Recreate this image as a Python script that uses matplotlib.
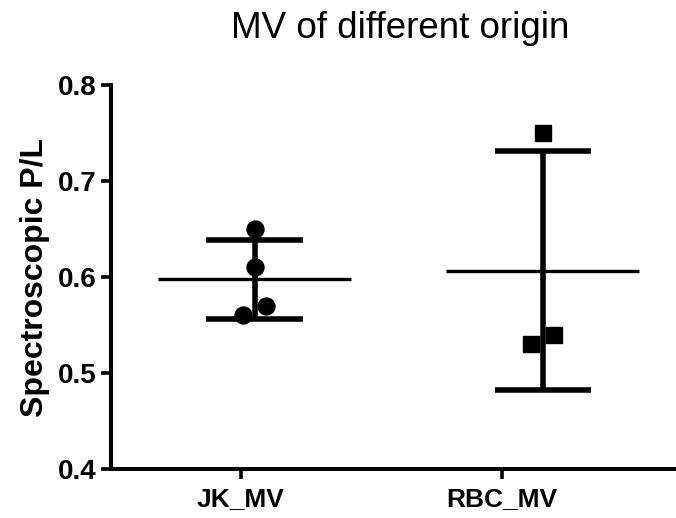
import numpy as np
import matplotlib
matplotlib.use("Agg")
import matplotlib.pyplot as plt

plt.rcParams["font.family"] = ["Liberation Sans", "DejaVu Sans"]

# Data
groups = ["JK_MV", "RBC_MV"]
jk_values = [0.65, 0.61, 0.57, 0.56]
rbc_values = [0.75, 0.53, 0.54]
# small horizontal scatter offsets (as drawn by the original software)
jk_offsets = [0.0, 0.0, 0.04, -0.04]
rbc_offsets = [0.0, -0.04, 0.04]

# Group centres and tick positions (ticks sit slightly left of the data)
centres = [1.0, 2.0]
tick_pos = [0.951, 1.858]

fig = plt.figure(figsize=(6.76, 5.18), dpi=100)
ax = fig.add_axes([0.164, 0.0946, 0.833, 0.741])

series = [
    (jk_values, jk_offsets, "o", 12.2),
    (rbc_values, rbc_offsets, "s", 11.5),
]

for centre, (vals, offs, marker, ms) in zip(centres, series):
    vals = np.array(vals)
    mean = vals.mean()
    sd = vals.std(ddof=1)

    # points
    ax.plot(
        centre + np.array(offs),
        vals,
        linestyle="none",
        marker=marker,
        markersize=ms,
        color="black",
        zorder=3
    )

    # mean line
    ax.plot(
        [centre - 0.335, centre + 0.335],
        [mean, mean],
        color="black",
        linewidth=2.4,
        solid_capstyle="butt"
    )

    # SD error bar
    ax.plot(
        [centre, centre],
        [mean - sd, mean + sd],
        color="black",
        linewidth=4.0,
        solid_capstyle="butt"
    )
    for y in (mean - sd, mean + sd):
        ax.plot(
            [centre - 0.168, centre + 0.168],
            [y, y],
            color="black",
            linewidth=4.0,
            solid_capstyle="butt"
        )

ax.set_xlim(0.5, 2.455)
ax.set_ylim(0.4, 0.8)
ax.set_yticks([0.4, 0.5, 0.6, 0.7, 0.8])
ax.set_yticklabels(["0.4", "0.5", "0.6", "0.7", "0.8"])
ax.set_xticks(tick_pos)
ax.set_xticklabels(groups)

for side in ("top", "right"):
    ax.spines[side].set_visible(False)
for side in ("left", "bottom"):
    ax.spines[side].set_linewidth(2.9)

ax.tick_params(axis="both", direction="out", length=7, width=2.6)
ax.tick_params(axis="y", labelsize=20, pad=3)
ax.tick_params(axis="x", labelsize=19, pad=6)
for lab in ax.get_xticklabels() + ax.get_yticklabels():
    lab.set_fontweight("bold")

ax.set_ylabel("Spectroscopic P/L", fontsize=23, fontweight="bold",
              labelpad=6)

fig.text(0.592, 0.945, "MV of different origin", ha="center",
         va="center", fontsize=26.5)

fig.savefig("out.png", dpi=100)
